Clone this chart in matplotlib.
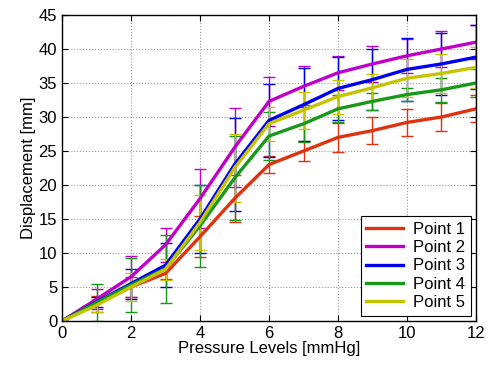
import numpy as np
import matplotlib.pyplot as plt

plt.rcParams['font.family'] = ['Liberation Sans', 'DejaVu Sans']

pressure = [0, 1, 2, 3, 4, 5, 6, 7, 8, 9, 10, 11, 12]

p1 = [0, 2.5, 5.0, 7.0, 12.4, 18.0, 23.0, 25.0, 27.0, 28.0, 29.2, 30.0, 31.2]
p2 = [0, 3.2, 6.5, 11.2, 18.0, 25.5, 32.3, 34.5, 36.5, 37.8, 39.0, 40.0, 41.0]
p3 = [0, 2.8, 5.5, 8.2, 15.0, 23.0, 29.5, 31.8, 34.2, 35.5, 37.0, 37.8, 38.8]
p4 = [0, 2.7, 5.3, 7.7, 14.0, 21.0, 27.2, 29.0, 31.2, 32.3, 33.3, 34.0, 35.0]
p5 = [0, 2.3, 5.0, 7.6, 14.5, 22.5, 29.0, 31.0, 33.0, 34.3, 35.7, 36.4, 37.3]

e1 = [0, 1.2, 1.5, 0.8, 3.0, 3.5, 1.3, 1.5, 2.1, 2.0, 2.0, 2.0, 2.0]
e2 = [0, 1.5, 3.0, 2.5, 4.3, 5.8, 3.6, 3.0, 2.5, 2.6, 2.5, 2.7, 2.5]
e3 = [0, 0.8, 2.2, 3.2, 5.0, 6.8, 5.4, 5.4, 4.6, 4.5, 4.6, 4.5, 4.7]
e4 = [0, 2.7, 4.0, 5.0, 6.0, 6.2, 3.5, 2.7, 2.0, 1.3, 1.0, 1.8, 2.0]
e5 = [0, 1.0, 2.0, 1.5, 4.0, 5.0, 2.5, 2.7, 2.5, 2.0, 2.8, 2.8, 3.0]

labels = ['Point 1', 'Point 2', 'Point 3', 'Point 4', 'Point 5']
colors = ['#e0320f', '#c000c8', '#0000f0', '#189818', '#c4c400']

fig = plt.figure(figsize=(4.93, 3.72), dpi=100)
ax = fig.add_axes([0.1258, 0.1371, 0.8397, 0.8226])

series = [p1, p2, p3, p4, p5]
errs = [e1, e2, e3, e4, e5]
for y, e, c, lab in zip(series, errs, colors, labels):
    ax.errorbar(pressure, y, yerr=e, color=c, ecolor=c, elinewidth=1.0,
                capsize=4, capthick=1.0, lw=2.4, label=lab)

ax.set_xlim(0, 12)
ax.set_ylim(0, 45)
ax.set_xticks(range(0, 13, 2))
ax.set_yticks(range(0, 46, 5))
ax.tick_params(direction='in', top=True, right=True, labelsize=12, length=4)
ax.grid(True, linestyle=':', color='#999999', linewidth=0.8)
for s in ax.spines.values():
    s.set_linewidth(1.0)

ax.set_xlabel('Pressure Levels [mmHg]', fontsize=12, labelpad=0)
ax.set_ylabel('Displacement [mm]', fontsize=12, labelpad=2)

handles, labs = ax.get_legend_handles_labels()
leg = ax.legend([h[0] for h in handles], labs, loc='lower right', fontsize=12,
                fancybox=False, framealpha=1, edgecolor='black',
                borderaxespad=0.3, borderpad=0.35, handlelength=2.2,
                handletextpad=0.6, labelspacing=0.2)
leg.get_frame().set_linewidth(0.8)

plt.savefig('out.png', dpi=100)
